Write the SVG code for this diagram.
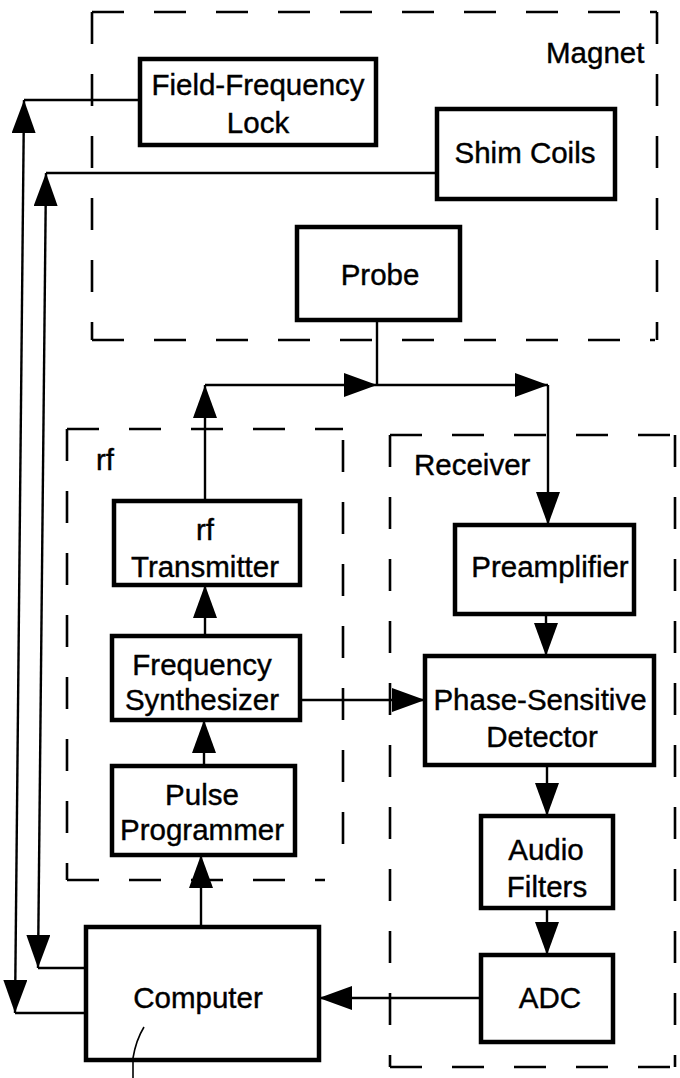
<svg xmlns="http://www.w3.org/2000/svg" width="680" height="1078" viewBox="0 0 680 1078">
<style>
.box{fill:#fff;stroke:#000;stroke-width:4.5}
.dash{fill:none;stroke:#000;stroke-width:2.6;stroke-dasharray:32 30}
.ln{fill:none;stroke:#000;stroke-width:2.4}
.arr{fill:none;stroke:#000;stroke-width:2.4;marker-end:url(#ah)}
.bi{fill:none;stroke:#000;stroke-width:2.4;marker-start:url(#ah);marker-end:url(#ah)}
text{font-family:"Liberation Sans",Arial,sans-serif;font-size:29.5px;fill:#000;stroke:#000;stroke-width:0.4;text-anchor:middle}
.lbl{text-anchor:start}
</style>
<defs>
<marker id="ah" viewBox="0 0 33 24" refX="33" refY="12" markerWidth="33" markerHeight="24" markerUnits="userSpaceOnUse" orient="auto-start-reverse">
<path d="M0,0 L33,12 L0,24 Z" fill="#000"/>
</marker>
</defs>
<rect width="680" height="1078" fill="#fff"/>
<g id="magnet-region">
<path class="dash" d="M92,12 H657"/>
<path class="dash" d="M92,12 V340"/>
<path class="dash" d="M92,340 H655"/>
<path class="dash" d="M657,12 V340"/>
<text class="lbl" x="546" y="63">Magnet</text>
</g>
<g id="rf-region">
<path class="dash" d="M67,429 H343"/>
<path class="dash" d="M67,429 V880"/>
<path class="dash" d="M67,880 H325"/>
<path class="dash" d="M343,440 V870"/>
<text class="lbl" x="96" y="470">rf</text>
</g>
<g id="receiver-region">
<path class="dash" d="M390,435 H677"/>
<path class="dash" d="M390,435 V1067"/>
<path class="dash" d="M390,1067 H675"/>
<path class="dash" d="M675,435 V1067"/>
<text class="lbl" x="414" y="475">Receiver</text>
</g>
<g id="connectors">
<path class="ln" d="M140,100 H24"/>
<path class="bi" d="M24,100 L15,1013"/>
<path class="ln" d="M15,1013 H86"/>
<path class="ln" d="M437,173 H46"/>
<path class="bi" d="M46,173 L38,968"/>
<path class="ln" d="M38,968 H86"/>
<path class="ln" d="M377,320 V385"/>
<path class="arr" d="M205,501 V385"/>
<path class="arr" d="M205,385 H377"/>
<path class="arr" d="M377,385 H548"/>
<path class="arr" d="M548,385 V525"/>
<path class="arr" d="M205,636 V585"/>
<path class="arr" d="M204,766 V720"/>
<path class="arr" d="M201,927 V855"/>
<path class="arr" d="M546,614 V656"/>
<path class="arr" d="M300,700 H425"/>
<path class="arr" d="M547,765 V816"/>
<path class="arr" d="M547,908 V955"/>
<path class="arr" d="M481,998 H319"/>
</g>
<g id="field-frequency-lock">
<rect class="box" x="140" y="59" width="236" height="86"/>
<text x="258" y="95">Field-Frequency</text>
<text x="258" y="133">Lock</text>
</g>
<g id="shim-coils">
<rect class="box" x="437" y="109" width="178" height="90"/>
<text x="525" y="163">Shim Coils</text>
</g>
<g id="probe">
<rect class="box" x="297" y="227" width="163" height="93"/>
<text x="380" y="285">Probe</text>
</g>
<g id="rf-transmitter">
<rect class="box" x="114" y="501" width="186" height="84"/>
<text x="205" y="540">rf</text>
<text x="205" y="577">Transmitter</text>
</g>
<g id="frequency-synthesizer">
<rect class="box" x="112" y="636" width="188" height="84"/>
<text x="202" y="675">Frequency</text>
<text x="202" y="710">Synthesizer</text>
</g>
<g id="pulse-programmer">
<rect class="box" x="112" y="766" width="183" height="89"/>
<text x="202" y="805">Pulse</text>
<text x="202" y="840">Programmer</text>
</g>
<g id="computer">
<rect class="box" x="86" y="927" width="233" height="133"/>
<text x="198" y="1008">Computer</text>
<path fill="none" stroke="#000" stroke-width="1.6" d="M144,1027 Q136,1040 133,1058 V1078"/>
</g>
<g id="preamplifier">
<rect class="box" x="455" y="525" width="179" height="89"/>
<text x="550" y="577">Preamplifier</text>
</g>
<g id="phase-sensitive-detector">
<rect class="box" x="425" y="656" width="229" height="109"/>
<text x="540" y="710">Phase-Sensitive</text>
<text x="542" y="747">Detector</text>
</g>
<g id="audio-filters">
<rect class="box" x="481" y="816" width="132" height="92"/>
<text x="546" y="860">Audio</text>
<text x="547" y="897">Filters</text>
</g>
<g id="adc">
<rect class="box" x="481" y="955" width="132" height="87"/>
<text x="550" y="1008">ADC</text>
</g>
</svg>
